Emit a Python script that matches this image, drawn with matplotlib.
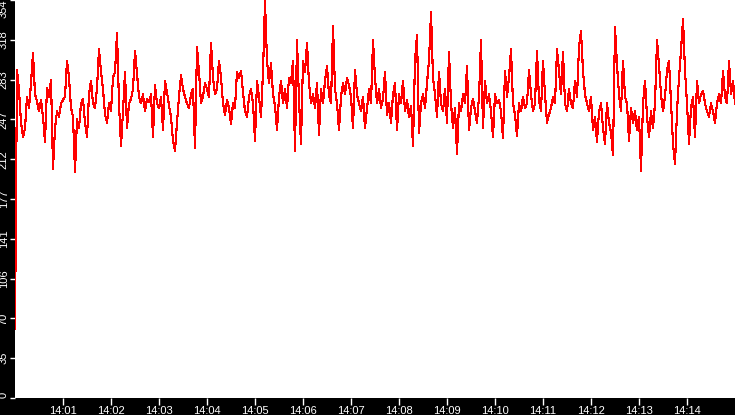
import numpy as np
import pandas as pd
import matplotlib
matplotlib.use("Agg")
import matplotlib.pyplot as plt
import matplotlib.dates as mdates

values = [
    61, 292, 274, 245, 232, 240, 268, 258, 280, 307, 270, 264, 255, 265, 250, 228, 276, 268, 283, 204,
    240, 255, 250, 262, 265, 268, 300, 285, 258, 250, 201, 248, 240, 262, 266, 245, 232, 270, 282, 262,
    258, 276, 310, 290, 275, 252, 245, 262, 255, 285, 290, 325, 262, 224, 255, 290, 240, 262, 266, 275,
    309, 288, 268, 262, 270, 255, 266, 263, 270, 232, 278, 262, 258, 268, 238, 282, 272, 260, 250, 229,
    220, 245, 268, 287, 275, 268, 262, 258, 270, 275, 222, 312, 290, 262, 268, 280, 275, 268, 316, 285,
    270, 275, 300, 285, 262, 252, 265, 258, 244, 262, 258, 290, 285, 291, 272, 255, 250, 268, 275, 262,
    229, 282, 268, 250, 290, 353, 300, 280, 298, 270, 260, 238, 268, 282, 262, 275, 258, 285, 280, 300,
    220, 318, 265, 226, 300, 290, 316, 280, 262, 270, 258, 280, 234, 275, 262, 282, 295, 270, 262, 331,
    275, 262, 238, 268, 280, 270, 285, 278, 268, 240, 292, 270, 262, 255, 268, 240, 258, 275, 262, 318,
    285, 262, 275, 258, 266, 290, 252, 262, 245, 270, 280, 238, 270, 262, 282, 255, 265, 250, 260, 224,
    300, 323, 236, 262, 270, 258, 280, 300, 343, 285, 270, 250, 290, 262, 255, 275, 245, 308, 262, 240,
    258, 217, 262, 255, 270, 262, 295, 238, 258, 266, 255, 245, 268, 318, 240, 282, 262, 270, 255, 232,
    270, 262, 265, 255, 231, 291, 268, 285, 310, 262, 252, 233, 262, 255, 268, 258, 262, 292, 270, 255,
    262, 309, 265, 255, 300, 270, 245, 252, 258, 268, 262, 310, 291, 270, 308, 262, 255, 275, 262, 258,
    282, 268, 312, 326, 291, 270, 262, 255, 268, 238, 250, 228, 255, 262, 240, 226, 262, 245, 236, 216,
    330, 296, 270, 255, 300, 268, 262, 229, 258, 245, 255, 238, 250, 202, 262, 282, 250, 232, 255, 240,
    262, 318, 296, 270, 255, 268, 291, 300, 262, 226, 208, 255, 285, 309, 337, 291, 262, 226, 258, 268,
    232, 282, 262, 270, 273, 262, 255, 250, 262, 255, 245, 262, 270, 262, 291, 268, 262, 300, 270, 282,
    262,
]
start_time = "2024-01-01 14:00:00"
end_time = "2024-01-01 14:15:00"
ytick_values = [0, 35.4, 70.8, 106.2, 141.6, 177, 212.4, 247.8, 283.2, 318.6, 354]
ytick_labels = ["0", "35", "70", "106", "141", "177", "212", "247", "283", "318", "354"]

times = pd.date_range(start=start_time, periods=len(values), freq="2500ms")

W, H = 735, 415
fig = plt.figure(figsize=(W / 100, H / 100), dpi=100, facecolor="black")
ax = fig.add_axes([15 / W, 17 / H, 720 / W, 398 / H])
ax.set_facecolor("white")
ax.plot(times, values, color="#ff0000", lw=0.8, antialiased=False)

ax.set_xlim(pd.Timestamp(start_time), pd.Timestamp(end_time))
ax.set_ylim(0, 354)
for s in ax.spines.values():
    s.set_visible(False)

ax.xaxis.set_major_locator(mdates.MinuteLocator(byminute=range(1, 15)))
ax.xaxis.set_major_formatter(mdates.DateFormatter("%H:%M"))
ax.set_yticks(ytick_values)
ax.set_yticklabels(ytick_labels)

font = "Liberation Sans"
ax.tick_params(axis="x", colors="white", length=5, width=1, pad=0.5, labelsize=8)
ax.tick_params(axis="y", colors="white", length=3.6, width=1, pad=0.8, labelsize=8)
for lab in ax.get_xticklabels():
    lab.set_family(font)
for lab in ax.get_yticklabels():
    lab.set_family(font)
    lab.set_rotation(90)
    lab.set_va("center")
ylabs = ax.get_yticklabels()
ylabs[-1].set_va("top")
ylabs[0].set_va("bottom")

fig.savefig("out.png", dpi=100, facecolor="black")
